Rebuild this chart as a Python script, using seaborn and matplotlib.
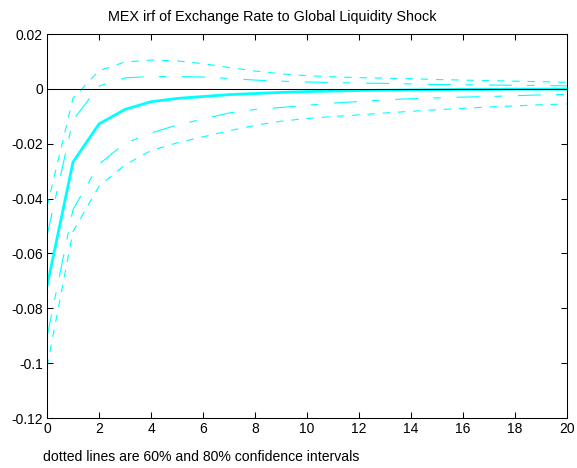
import matplotlib
matplotlib.use("Agg")
import matplotlib.pyplot as plt
import numpy as np
import pandas as pd
import seaborn as sns

# Impulse response horizon
horizon = list(range(21))

# Median response of the exchange rate
median = [-0.0720, -0.0267, -0.0128, -0.0075, -0.0047, -0.0035, -0.0028, -0.0021,
          -0.0017, -0.0013, -0.0010, -0.0008, -0.0006, -0.0005, -0.0004, -0.0003,
          -0.0002, -0.0002, -0.0001, -0.0001, -0.0001]

# 60% confidence band
upper60 = [-0.0535, -0.0114, 0.0010, 0.0040, 0.0045, 0.0045, 0.0043, 0.0038,
           0.0032, 0.0028, 0.0025, 0.0023, 0.0021, 0.0020, 0.0018, 0.0016,
           0.0015, 0.0014, 0.0013, 0.0012, 0.0011]
lower60 = [-0.0905, -0.0440, -0.0275, -0.0198, -0.0161, -0.0132, -0.0110, -0.0088,
           -0.0075, -0.0068, -0.0060, -0.0052, -0.0046, -0.0040, -0.0036, -0.0033,
           -0.0030, -0.0028, -0.0025, -0.0022, -0.0020]

# 80% confidence band
upper80 = [-0.0430, -0.0034, 0.0066, 0.0098, 0.0105, 0.0102, 0.0092, 0.0078,
           0.0065, 0.0055, 0.0048, 0.0044, 0.0041, 0.0039, 0.0037, 0.0034,
           0.0032, 0.0030, 0.0028, 0.0026, 0.0024]
lower80 = [-0.1014, -0.0520, -0.0355, -0.0277, -0.0225, -0.0197, -0.0175, -0.0153,
           -0.0133, -0.0118, -0.0108, -0.0101, -0.0095, -0.0088, -0.0082, -0.0076,
           -0.0071, -0.0066, -0.0062, -0.0058, -0.0055]

xticks = [0, 2, 4, 6, 8, 10, 12, 14, 16, 18, 20]
yticks = [-0.12, -0.10, -0.08, -0.06, -0.04, -0.02, 0.0, 0.02]
ytick_labels = ["-0.12", "-0.1", "-0.08", "-0.06", "-0.04", "-0.02", "0", "0.02"]

title = "MEX irf of Exchange Rate to Global Liquidity Shock"
note = "dotted lines are 60% and 80% confidence intervals"

sns.set_theme(style="white")
plt.rcParams["font.family"] = ["Liberation Sans", "DejaVu Sans"]
plt.rcParams["lines.scale_dashes"] = False

df = pd.DataFrame({
    "h": horizon, "median": median,
    "upper60": upper60, "lower60": lower60,
    "upper80": upper80, "lower80": lower80,
})

fig = plt.figure(figsize=(5.77, 4.68), dpi=100)
ax = fig.add_axes([47 / 577, 1 - 418 / 468, 520 / 577, 384 / 468])

cyan = "#00ffff"
dashdot = (0, (16.6, 10.8, 5.5, 11.3))
dashed = (0, (5.4, 5.6))

for col in ["upper80", "lower80"]:
    sns.lineplot(data=df, x="h", y=col, ax=ax, color=cyan, linewidth=0.8,
                 linestyle=dashed, estimator=None, sort=False)
for col in ["upper60", "lower60"]:
    sns.lineplot(data=df, x="h", y=col, ax=ax, color=cyan, linewidth=0.8,
                 linestyle=dashdot, estimator=None, sort=False)
sns.lineplot(data=df, x="h", y="median", ax=ax, color=cyan, linewidth=2.0,
             estimator=None, sort=False)

ax.axhline(0, color="black", linewidth=0.75, zorder=5)

ax.set_xlim(0, 20)
ax.set_ylim(-0.12, 0.02)
ax.set_xticks(xticks)
ax.set_xticklabels([str(t) for t in xticks])
ax.set_yticks(yticks)
ax.set_yticklabels(ytick_labels)
ax.set_xlabel("")
ax.set_ylabel("")

for side in ["top", "right", "bottom", "left"]:
    ax.spines[side].set_visible(True)
    ax.spines[side].set_color("black")
    ax.spines[side].set_linewidth(0.75)

ax.tick_params(axis="both", direction="in", length=4, width=0.75, color="black",
               labelsize=10, labelcolor="black", top=True, right=True,
               bottom=True, left=True, pad=3)

fig.text(272 / 577, 1 - 17 / 468, title, ha="center", va="center",
         fontsize=10.4, color="black")
fig.text(43 / 577, 1 - 457 / 468, note, ha="left", va="center",
         fontsize=10.1, color="black")

fig.savefig("out.png", dpi=100, facecolor="white")
